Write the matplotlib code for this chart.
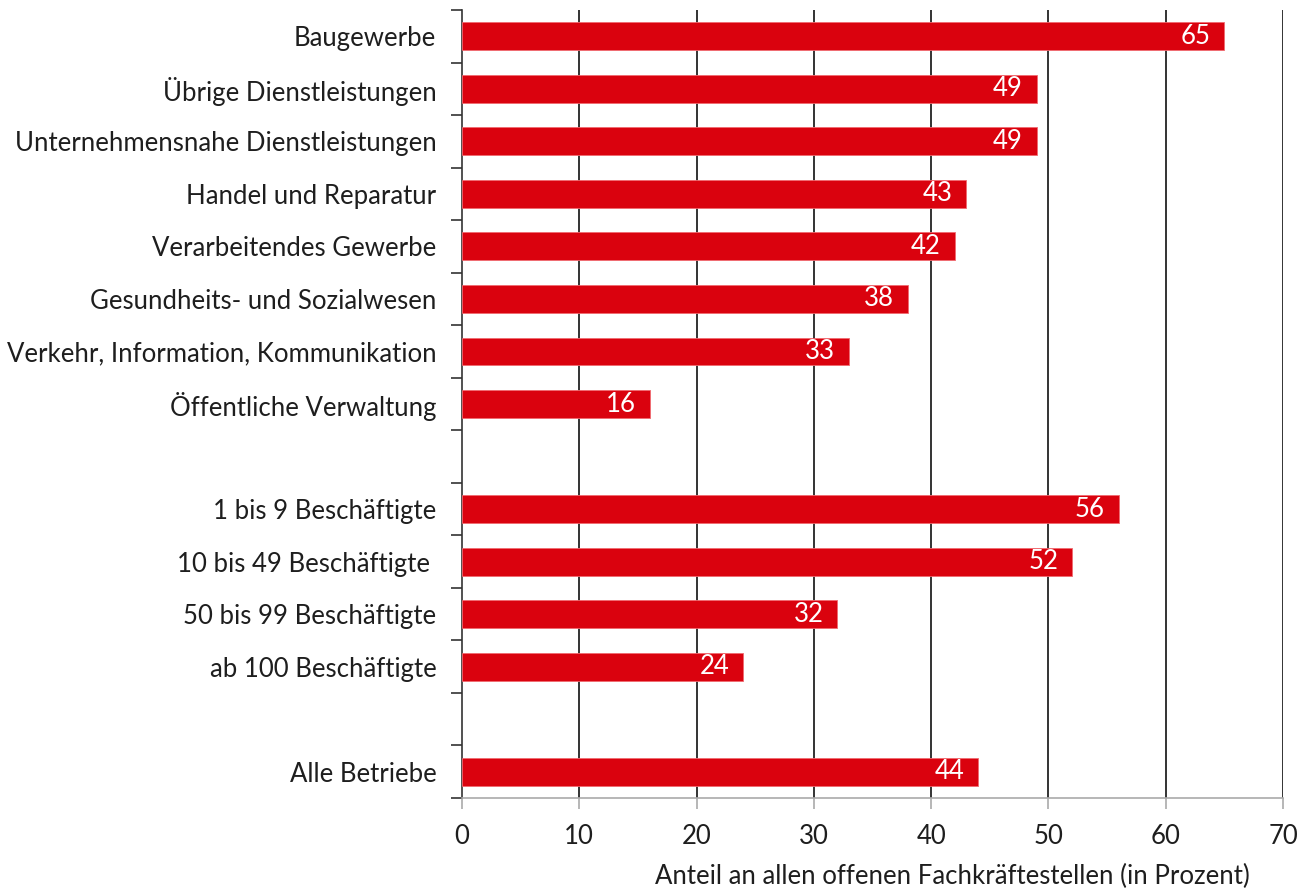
import matplotlib

matplotlib.use("Agg")
import matplotlib.pyplot as plt
import numpy as np

plt.rcParams["font.family"] = ["Lato", "DejaVu Sans"]

# slots from top to bottom, empty strings are spacer rows
labels = [
    "Baugewerbe",
    "Übrige Dienstleistungen",
    "Unternehmensnahe Dienstleistungen",
    "Handel und Reparatur",
    "Verarbeitendes Gewerbe",
    "Gesundheits- und Sozialwesen",
    "Verkehr, Information, Kommunikation",
    "Öffentliche Verwaltung",
    "",
    "1 bis 9 Beschäftigte",
    "10 bis 49 Beschäftigte ",
    "50 bis 99 Beschäftigte",
    "ab 100 Beschäftigte",
    "",
    "Alle Betriebe",
]
values = [65, 49, 49, 43, 42, 38, 33, 16, None, 56, 52, 32, 24, None, 44]
x_ticks = [0, 10, 20, 30, 40, 50, 60, 70]

BAR_COLOR = "#da020e"
TEXT_COLOR = "#1e1e1e"
FS = 18.5

fig = plt.figure(figsize=(13.06, 8.9), dpi=100)
ax = fig.add_axes([462 / 1306, 1 - 798 / 890, (1283 - 462) / 1306, (798 - 10) / 890])

n = len(labels)
ypos = np.arange(n)
for y, v in zip(ypos, values):
    if v is None:
        continue
    ax.barh(y, v, height=0.53, color=BAR_COLOR, edgecolor="#f06a70", linewidth=0.6, zorder=3)
    ax.annotate(str(v), xy=(v, y), xytext=(-10, 0), textcoords="offset points",
                ha="right", va="center", color="white", fontsize=FS, zorder=4)

ax.set_xlim(0, 70)
ax.set_ylim(n - 0.5, -0.5)
ax.set_xticks(x_ticks)
ax.set_xticklabels([str(t) for t in x_ticks], fontsize=FS, color=TEXT_COLOR)

ax.set_yticks(ypos)
ax.set_yticklabels(labels, fontsize=FS, color=TEXT_COLOR)
ax.set_yticks(np.arange(n + 1) - 0.5, minor=True)
ax.tick_params(axis="y", which="major", length=0, pad=18.5)
ax.tick_params(axis="y", which="minor", length=8, width=1.2, color="#333333")
ax.tick_params(axis="x", length=8, width=1.2, color="#aaaaaa", pad=11)

for t in x_ticks[1:]:
    ax.axvline(t, color="#111111", linewidth=1.2, zorder=1)

for side in ["top", "right"]:
    ax.spines[side].set_visible(False)
ax.spines["left"].set_color("#333333")
ax.spines["left"].set_linewidth(1.2)
ax.spines["bottom"].set_color("#aaaaaa")
ax.spines["bottom"].set_linewidth(1.2)

fig.text(1250 / 1306, 1 - 876 / 890, "Anteil an allen offenen Fachkräftestellen (in Prozent)",
         ha="right", va="center", fontsize=FS, color=TEXT_COLOR)

fig.savefig("out.png", dpi=100)
